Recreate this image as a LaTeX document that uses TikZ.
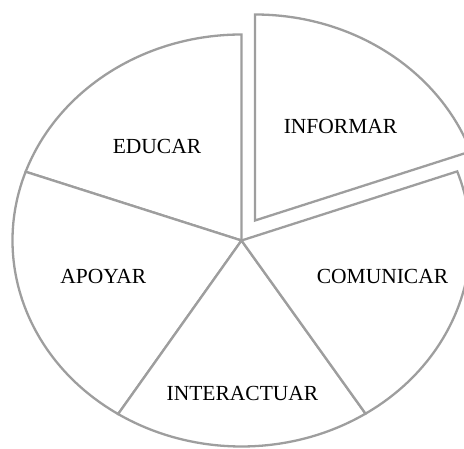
\documentclass[tikz,border=0pt]{standalone}
\usepackage{fontspec}
\setmainfont{Liberation Serif}
\usetikzlibrary{calc}
\definecolor{edgegray}{RGB}{158,158,158}
\begin{document}
\begin{tikzpicture}[x=1pt,y=1pt,
  slice/.style={draw=edgegray,line width=2.3pt,fill=white,line join=miter},
  ell/.style={x radius=229pt,y radius=206pt},
  lbl/.style={anchor=base,inner sep=0pt,font=\fontsize{21.5}{26}\selectfont}]
\useasboundingbox (0,0) rectangle (464,448);
\clip (0,0) rectangle (464,448);
\coordinate (c) at (241.5,207.5);
% EDUCAR
\draw[slice] (c) -- ($(c)+(90:229pt and 206pt)$) arc[ell,start angle=90,end angle=160.5] -- cycle;
% APOYAR
\draw[slice] (c) -- ($(c)+(160.5:229pt and 206pt)$) arc[ell,start angle=160.5,end angle=237.4] -- cycle;
% INTERACTUAR
\draw[slice] (c) -- ($(c)+(237.4:229pt and 206pt)$) arc[ell,start angle=237.4,end angle=302.8] -- cycle;
% COMUNICAR
\draw[slice] (c) -- ($(c)+(302.8:229pt and 206pt)$) arc[ell,start angle=302.8,end angle=379.6] -- cycle;
% INFORMAR (exploded)
\coordinate (ce) at ($(c)+(13.5,20)$);
\draw[slice] (ce) -- ($(ce)+(19.6:229pt and 206pt)$) arc[ell,start angle=19.6,end angle=90] -- cycle;
\node[lbl] (informar) at (340.5,314) {INFORMAR};
\node[lbl] (educar) at (157,294) {EDUCAR};
\node[lbl] (apoyar) at (103.3,164) {APOYAR};
\node[lbl] (interactuar) at (242.5,47.3) {INTERACTUAR};
\node[lbl] (comunicar) at (382.5,164) {COMUNICAR};
\end{tikzpicture}
\end{document}
